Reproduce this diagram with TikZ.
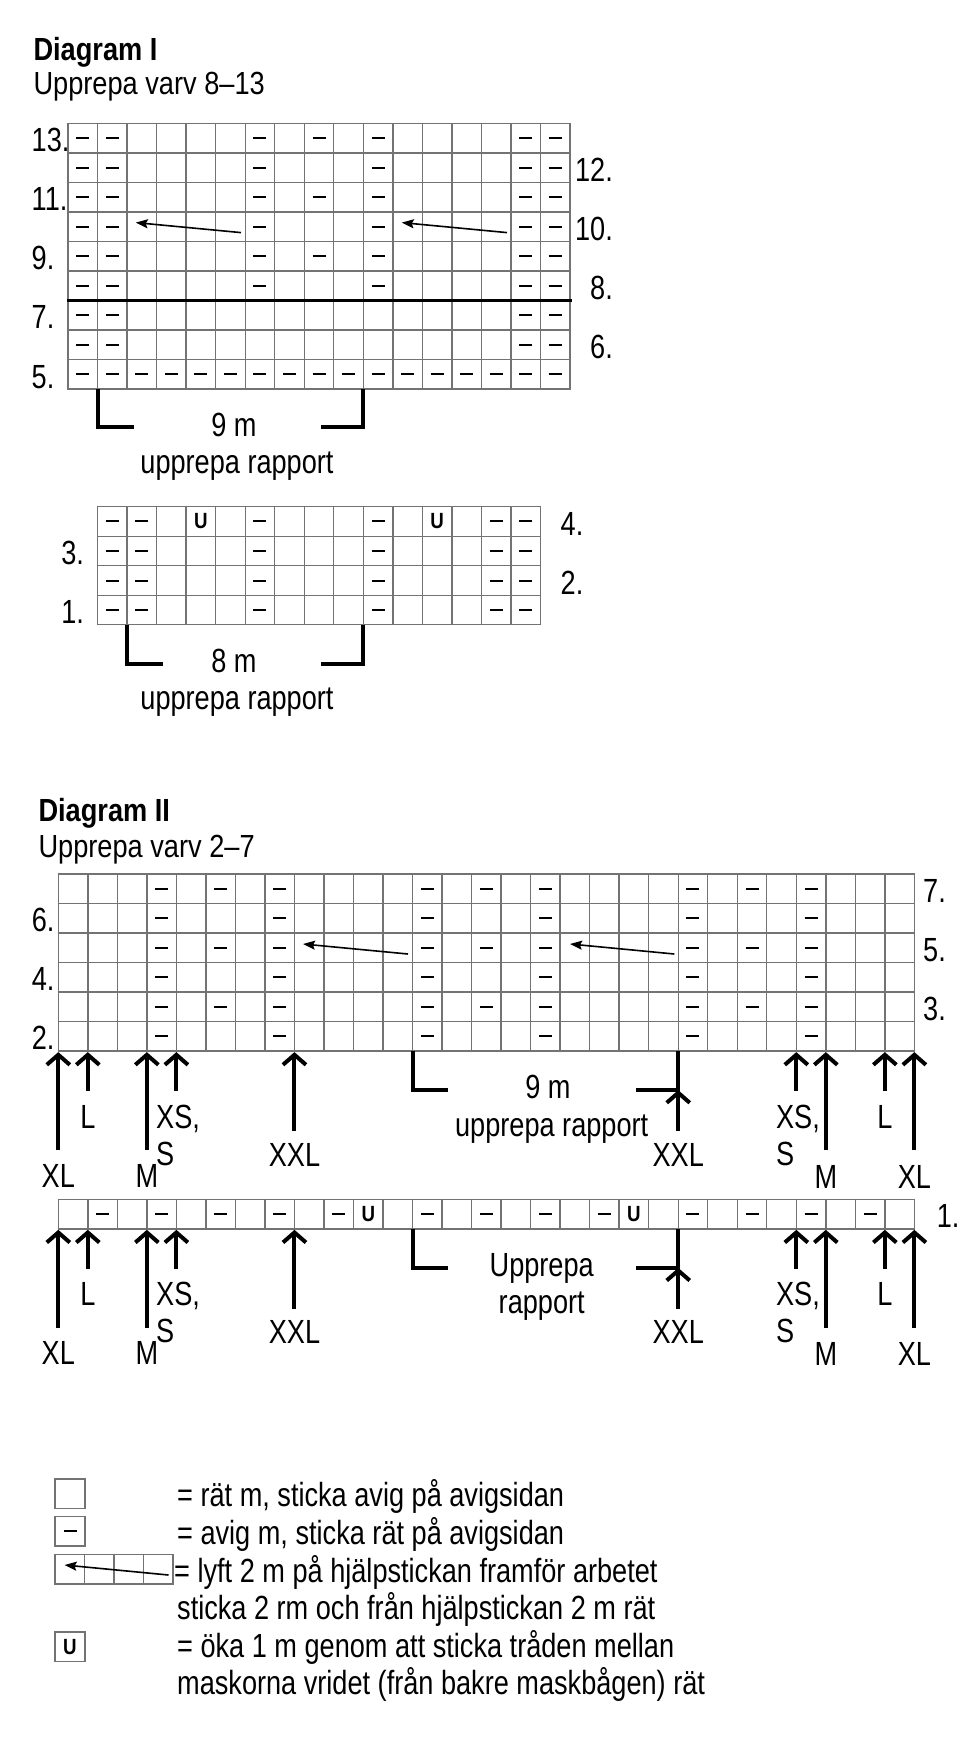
\documentclass[tikz,border=0pt]{standalone}
\usepackage{fontspec}
\setmainfont{Liberation Sans}[FakeStretch=0.85]
\newfontfamily\condfont{Liberation Sans}[FakeStretch=0.81]
\usetikzlibrary{arrows.meta}
\definecolor{gridgray}{RGB}{115,115,115}
\newcommand{\cellsz}{29.52}
\newcommand{\knitgrid}[4]{%
  \foreach \i in {0,...,#3}{\draw[gridline] ({#1+\i*\cellsz},#2) -- ({#1+\i*\cellsz},{#2+#4*\cellsz});}
  \foreach \j in {0,...,#4}{\draw[gridline] ({#1-0.7},{#2+\j*\cellsz}) -- ({#1+#3*\cellsz+0.7},{#2+\j*\cellsz});}
}
\newcommand{\purls}[4]{%
  \foreach \k in {#4}{\draw[purl] ({#1+(\k-0.5)*\cellsz-6.5},{round(#2+(#3-0.5)*\cellsz)}) -- ++(13,0);}
}
\newcommand{\ust}[5]{\node[ustitch] (#5) at ({#1+(#4-0.5)*\cellsz},{#2+(#3-0.5)*\cellsz}) {U};}
\newcommand{\sizearr}[4]{%
  \coordinate (#1t) at (#2,{#3+#4});
  \coordinate (#1h) at (#2,{#3+1});
  \draw[sizearrow] (#1t) -- (#1h);
}
\newcommand{\sizeset}[2]{%
  \sizearr{#2xla}{58.3}{#1}{99}
  \sizearr{#2la}{87.82}{#1}{40}
  \sizearr{#2ma}{146.86}{#1}{99}
  \sizearr{#2sa}{176.38}{#1}{40}
  \sizearr{#2xxa}{294.46}{#1}{80}
  \sizearr{#2sb}{796.3}{#1}{40}
  \sizearr{#2mb}{825.82}{#1}{99}
  \sizearr{#2lb}{884.86}{#1}{40}
  \sizearr{#2xlb}{914.38}{#1}{99}
  \coordinate (#2bla) at (412.54,#1);
  \coordinate (#2blb) at (412.54,{#1+39});
  \coordinate (#2blc) at (448.3,{#1+39});
  \draw[bracket] (#2bla) -- (#2blb) -- (#2blc);
  \coordinate (#2bra) at (678.22,#1);
  \coordinate (#2brb) at (678.22,{#1+39});
  \coordinate (#2brc) at (635.7,{#1+39});
  \draw[bracket] (#2bra) -- (#2brb) -- (#2brc);
  \coordinate (#2xxbt) at (678.22,{#1+80});
  \draw[sizearrow] (#2xxbt) -- (#2brb);
  \node[lbl,anchor=base] (#2XLa) at (58.3,{#1+136}) {XL};
  \node[lbl,anchor=base] (#2La) at (87.82,{#1+77}) {L};
  \node[lbl,anchor=base] (#2Ma) at (146.86,{#1+136}) {M};
  \node[lbl,anchor=base west] (#2XSa) at (156,{#1+77}) {XS,};
  \node[lbl,anchor=base west] (#2Sa) at (156,{#1+114}) {S};
  \node[lbl,anchor=base] (#2XXLa) at (294.46,{#1+115}) {XXL};
  \node[lbl,anchor=base] (#2XXLb) at (678.22,{#1+115}) {XXL};
  \node[lbl,anchor=base west] (#2XSb) at (775.9,{#1+77}) {XS,};
  \node[lbl,anchor=base west] (#2Sb) at (775.9,{#1+114}) {S};
  \node[lbl,anchor=base] (#2Mb) at (825.82,{#1+137}) {M};
  \node[lbl,anchor=base] (#2Lb) at (884.86,{#1+77}) {L};
  \node[lbl,anchor=base] (#2XLb) at (914.38,{#1+137}) {XL};
}
\begin{document}
\begin{tikzpicture}[x=1pt,y=-1pt,
  gridline/.style={draw=gridgray,line width=1.4pt},
  purl/.style={line width=2pt,black},
  thickrule/.style={line width=3.6pt,black},
  bracket/.style={line width=4pt,black,line join=miter},
  sizearrow/.style={line width=4pt,black,-{Straight Barb[length=10pt,width=23pt]}},
  cablearrow/.style={line width=1.6pt,black,-{Stealth[length=12pt,width=9pt,inset=2pt]}},
  lbl/.style={inner sep=0pt,font=\condfont\fontsize{33.5}{38}\selectfont},
  ttl/.style={inner sep=0pt,anchor=base west,font=\fontsize{32}{37}\selectfont},
  ustitch/.style={inner sep=0pt,font=\fontsize{22}{22}\selectfont\bfseries},
  keybox/.style={draw=gridgray,line width=1.4pt,minimum width=30pt,minimum height=29.5pt,inner sep=0pt},
]
\fill[white] (0,0) rectangle (972,1745);
\useasboundingbox (0,0) rectangle (972,1745);

% ---------------- Diagram I ----------------
\node[ttl,font=\fontsize{32}{37}\selectfont\bfseries] (t1) at (33.3,60) {Diagram I};
\node[ttl] (s1) at (33.3,94) {Upprepa varv 8–13};

\knitgrid{68.1}{123.3}{17}{9}
\purls{68.1}{123.3}{1}{1,2,7,9,11,16,17}
\purls{68.1}{123.3}{2}{1,2,7,11,16,17}
\purls{68.1}{123.3}{3}{1,2,7,9,11,16,17}
\purls{68.1}{123.3}{4}{1,2,7,11,16,17}
\purls{68.1}{123.3}{5}{1,2,7,9,11,16,17}
\purls{68.1}{123.3}{6}{1,2,7,11,16,17}
\purls{68.1}{123.3}{7}{1,2,16,17}
\purls{68.1}{123.3}{8}{1,2,16,17}
\purls{68.1}{123.3}{9}{1,...,17}
\coordinate (tra) at (67,{123.3+6*\cellsz});
\coordinate (trb) at (572,{123.3+6*\cellsz});
\draw[thickrule] (tra) -- (trb);

\coordinate (c1t) at (241,232.6);  \coordinate (c1h) at (135.8,222.6);
\draw[cablearrow] (c1t) -- (c1h);
\coordinate (c2t) at (507,232.6);  \coordinate (c2h) at (401.8,222.6);
\draw[cablearrow] (c2t) -- (c2h);

\node[lbl,anchor=base west] (r13) at (31.5,151.8) {13.};
\node[lbl,anchor=base west] (r11) at (31.5,210.9) {11.};
\node[lbl,anchor=base west] (r9) at (31.5,269.9) {9.};
\node[lbl,anchor=base west] (r7) at (31.5,328.9) {7.};
\node[lbl,anchor=base west] (r5) at (31.5,388) {5.};
\node[lbl,anchor=base east] (r12) at (613,181.3) {12.};
\node[lbl,anchor=base east] (r10) at (613,240.4) {10.};
\node[lbl,anchor=base east] (r8) at (613,299.4) {8.};
\node[lbl,anchor=base east] (r6) at (613,358.5) {6.};

\coordinate (ba1) at (97.62,389); \coordinate (ba2) at (97.62,427.3); \coordinate (ba3) at (134,427.3);
\draw[bracket] (ba1) -- (ba2) -- (ba3);
\coordinate (bb1) at (363.3,389); \coordinate (bb2) at (363.3,427.3); \coordinate (bb3) at (320.7,427.3);
\draw[bracket] (bb1) -- (bb2) -- (bb3);
\node[lbl,anchor=base] (nine) at (234,436) {9 m};
\node[lbl,anchor=base] (rep1) at (237,473.3) {upprepa rapport};

\knitgrid{97.62}{506.7}{15}{4}
\purls{97.62}{506.7}{1}{1,2,6,10,14,15}
\ust{97.62}{506.7}{1}{4}{u1}
\ust{97.62}{506.7}{1}{12}{u2}
\purls{97.62}{506.7}{2}{1,2,6,10,14,15}
\purls{97.62}{506.7}{3}{1,2,6,10,14,15}
\purls{97.62}{506.7}{4}{1,2,6,10,14,15}
\node[lbl,anchor=base east] (q4) at (583.5,535.5) {4.};
\node[lbl,anchor=base west] (q3) at (61.2,564.8) {3.};
\node[lbl,anchor=base east] (q2) at (583.5,594.3) {2.};
\node[lbl,anchor=base west] (q1) at (61.2,623.8) {1.};

\coordinate (bc1) at (127.14,624.8); \coordinate (bc2) at (127.14,664); \coordinate (bc3) at (163.4,664);
\draw[bracket] (bc1) -- (bc2) -- (bc3);
\coordinate (bd1) at (363.3,624.8); \coordinate (bd2) at (363.3,664); \coordinate (bd3) at (320.7,664);
\draw[bracket] (bd1) -- (bd2) -- (bd3);
\node[lbl,anchor=base] (eight) at (234,672) {8 m};
\node[lbl,anchor=base] (rep2) at (237,709) {upprepa rapport};

% ---------------- Diagram II ----------------
\node[ttl,font=\fontsize{32}{37}\selectfont\bfseries] (t2) at (38.3,821.7) {Diagram II};
\node[ttl] (s2) at (38.3,857.3) {Upprepa varv 2–7};

\knitgrid{58.3}{874}{29}{6}
\purls{58.3}{874}{1}{4,6,8,13,15,17,22,24,26}
\purls{58.3}{874}{2}{4,8,13,17,22,26}
\purls{58.3}{874}{3}{4,6,8,13,15,17,22,24,26}
\purls{58.3}{874}{4}{4,8,13,17,22,26}
\purls{58.3}{874}{5}{4,6,8,13,15,17,22,24,26}
\purls{58.3}{874}{6}{4,8,13,17,22,26}
\coordinate (c3t) at (408,954); \coordinate (c3h) at (303,944);
\draw[cablearrow] (c3t) -- (c3h);
\coordinate (c4t) at (674.3,954); \coordinate (c4h) at (570,944);
\draw[cablearrow] (c4t) -- (c4h);

\node[lbl,anchor=base west] (w6) at (31.7,931.5) {6.};
\node[lbl,anchor=base west] (w4) at (31.7,990.6) {4.};
\node[lbl,anchor=base west] (w2) at (31.7,1049.6) {2.};
\node[lbl,anchor=base west] (w7) at (923,902) {7.};
\node[lbl,anchor=base west] (w5) at (923,961) {5.};
\node[lbl,anchor=base west] (w3) at (923,1020) {3.};

\sizeset{1051.12}{p}
\node[lbl,anchor=base] (nineb) at (548,1098) {9 m};
\node[lbl,anchor=base] (rep3) at (551.7,1136.7) {upprepa rapport};

\knitgrid{58.3}{1199.3}{29}{1}
\purls{58.3}{1199.3}{1}{2,4,6,8,10,13,15,17,19,22,24,26,28}
\ust{58.3}{1199.3}{1}{11}{u3}
\ust{58.3}{1199.3}{1}{20}{u4}
\node[lbl,anchor=base west] (w1) at (936.7,1227.3) {1.};

\sizeset{1228.82}{q}
\node[lbl,anchor=base] (rep4a) at (541.7,1276.7) {Upprepa};
\node[lbl,anchor=base] (rep4b) at (541.7,1313) {rapport};

% ---------------- Legend ----------------
\node[keybox] (k1) at (70,1493.7) {};
\node[keybox] (k2) at (70,1531.3) {};
\draw[purl] (63.5,1531) -- ++(13,0);
\knitgrid{55}{1554.3}{4}{1}
\coordinate (kat) at (168.5,1575); \coordinate (kah) at (64.6,1565);
\draw[cablearrow] (kat) -- (kah);
\node[keybox] (k4) at (70,1646.7) {};
\node[ustitch] (k4u) at (k4) {U};

\node[lbl,anchor=base west] (l1) at (177,1506.5) {= rät m, sticka avig på avigsidan};
\node[lbl,anchor=base west] (l2) at (177,1544) {= avig m, sticka rät på avigsidan};
\node[lbl,anchor=base west] (l3) at (174,1582) {= lyft 2 m på hjälpstickan framför arbetet};
\node[lbl,anchor=base west] (l4) at (177,1619.5) {sticka 2 rm och från hjälpstickan 2 m rät};
\node[lbl,anchor=base west] (l5) at (177,1657) {= öka 1 m genom att sticka tråden mellan};
\node[lbl,anchor=base west] (l6) at (177,1694) {maskorna vridet (från bakre maskbågen) rät};
\end{tikzpicture}
\end{document}
